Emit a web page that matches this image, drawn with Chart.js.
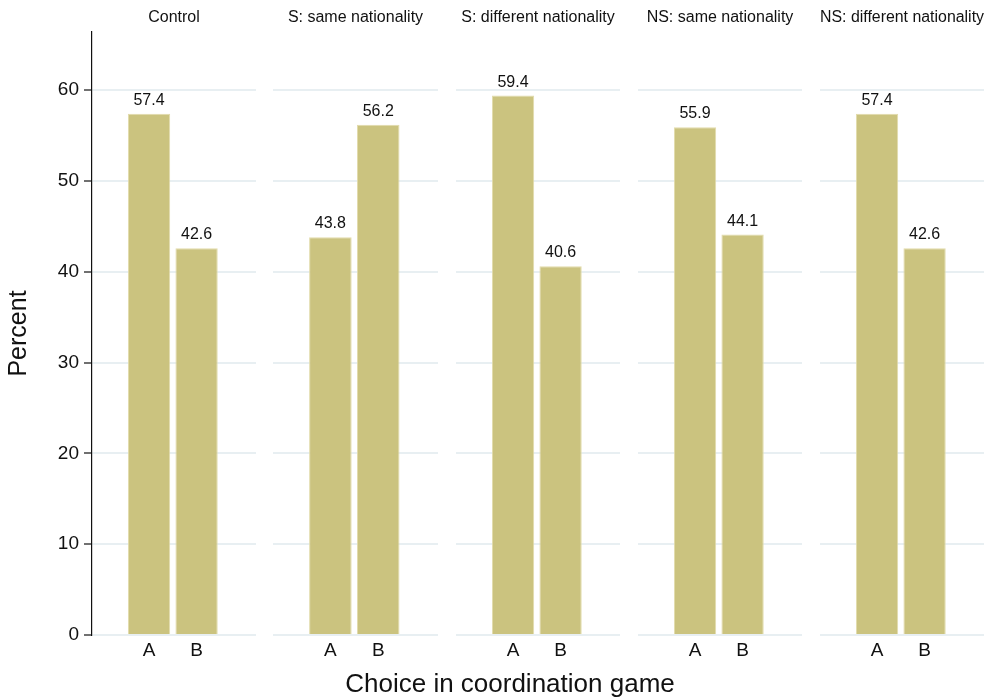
<!DOCTYPE html>
<html>
<head>
<meta charset="utf-8">
<script src="https://cdn.jsdelivr.net/npm/chart.js@4/dist/chart.umd.min.js"></script>
<style>
  html, body { margin: 0; padding: 0; background: #fff; }
  #wrap { position: relative; width: 993px; height: 698px; overflow: hidden; }
  .panel { position: absolute; top: 0; height: 698px; }
  #xtitle {
    position: absolute; left: 0; width: 1020px; top: 668px; height: 30px;
    line-height: 30px; text-align: center; color: #111;
    font: 26px "Liberation Sans", Arial, Helvetica, sans-serif;
  }
</style>
</head>
<body>
<div id="wrap">
  <div class="panel" id="p0" style="left:0;width:256px"><canvas id="c0"></canvas></div>
  <div class="panel" id="p1" style="left:273px;width:165px"><canvas id="c1"></canvas></div>
  <div class="panel" id="p2" style="left:456px;width:164px"><canvas id="c2"></canvas></div>
  <div class="panel" id="p3" style="left:638px;width:164px"><canvas id="c3"></canvas></div>
  <div class="panel" id="p4" style="left:820px;width:164px"><canvas id="c4"></canvas></div>
  <div id="xtitle">Choice in coordination game</div>
</div>
<script>
// Coordination game choices by treatment

const PANELS  = ['Control', 'S: same nationality', 'S: different nationality',
                 'NS: same nationality', 'NS: different nationality'];
const CHOICES = ['A', 'B'];
const PCT_A   = [57.4, 43.8, 59.4, 55.9, 57.4];
const PCT_B   = [42.6, 56.2, 40.6, 44.1, 42.6];
const Y_TICKS = [0, 10, 20, 30, 40, 50, 60];
const Y_TITLE = 'Percent';

const FONT = '"Liberation Sans", Arial, Helvetica, sans-serif';
const BAR_FILL = '#cbc37f';
const BAR_EDGE = '#e2dbab';
const GRID = '#e8eff2';

// value labels above each bar
const valueLabels = {
    id: 'valueLabels',
    afterDatasetsDraw(chart) {
        const ctx = chart.ctx;
        const ds = chart.data.datasets[0];
        ctx.save();
        ctx.font = `16px ${FONT}`;
        ctx.fillStyle = '#111';
        ctx.textAlign = 'center';
        ctx.textBaseline = 'alphabetic';
        chart.getDatasetMeta(0).data.forEach((bar, i) => {
            ctx.fillText(ds.data[i].y.toFixed(1), bar.x, bar.y - 9);
        });
        ctx.restore();
    }
};

function makePanel(idx) {
    const first = idx === 0;
    const values = [PCT_A[idx], PCT_B[idx]];
    const ctx = document.getElementById('c' + idx).getContext('2d');
    return new Chart(ctx, {
        type: 'bar',
        data: {
            datasets: [{
                data: CHOICES.map((c, i) => ({ x: i, y: values[i] })),
                backgroundColor: BAR_FILL,
                borderColor: BAR_EDGE,
                borderWidth: 1,
                barPercentage: 0.89,
                categoryPercentage: 1
            }]
        },
        options: {
            responsive: true,
            maintainAspectRatio: false,
            animation: false,
            events: [],
            layout: { padding: { left: 0, right: 0, top: 0, bottom: 33 } },
            plugins: {
                legend: { display: false },
                tooltip: { enabled: false },
                title: { display: false }
            },
            scales: {
                x: {
                    type: 'linear',
                    offset: false,
                    min: -1.2,
                    max: 2.25,
                    grid: { display: false, drawTicks: false },
                    border: { display: false },
                    afterBuildTicks: s => { s.ticks = CHOICES.map((c, i) => ({ value: i })); },
                    afterFit: s => { s.height = 30; },
                    ticks: {
                        autoSkip: false,
                        maxRotation: 0,
                        padding: 4,
                        color: '#111',
                        font: { family: FONT, size: 19 },
                        callback: v => CHOICES[v]
                    }
                },
                // top axis only carries the panel heading, centred on the plot area
                xTop: {
                    type: 'linear',
                    position: 'top',
                    min: -1.2,
                    max: 2.25,
                    grid: { display: false, drawTicks: false },
                    border: { display: false },
                    ticks: { display: false },
                    afterFit: s => { s.height = 32; },
                    title: {
                        display: true,
                        text: PANELS[idx],
                        color: '#111',
                        font: { family: FONT, size: 16 },
                        padding: { top: 8, bottom: 4.8 }
                    }
                },
                y: {
                    min: 0,
                    max: 66.4,
                    afterBuildTicks: s => { s.ticks = Y_TICKS.map(v => ({ value: v })); },
                    afterFit: s => { s.width = first ? 92 : 0; },
                    grid: {
                        color: GRID,
                        lineWidth: 2,
                        drawTicks: first,
                        tickLength: 8,
                        tickColor: '#111',
                        tickWidth: 1.2
                    },
                    border: { display: first, color: '#111', width: 1.2 },
                    ticks: {
                        display: first,
                        padding: 5,
                        color: '#111',
                        font: { family: FONT, size: 19 }
                    },
                    title: {
                        display: first,
                        text: Y_TITLE,
                        color: '#111',
                        font: { family: FONT, size: 25 },
                        padding: { top: 4, bottom: 0 }
                    }
                }
            }
        },
        plugins: [valueLabels]
    });
}

PANELS.forEach((p, i) => makePanel(i));
</script>
</body>
</html>
